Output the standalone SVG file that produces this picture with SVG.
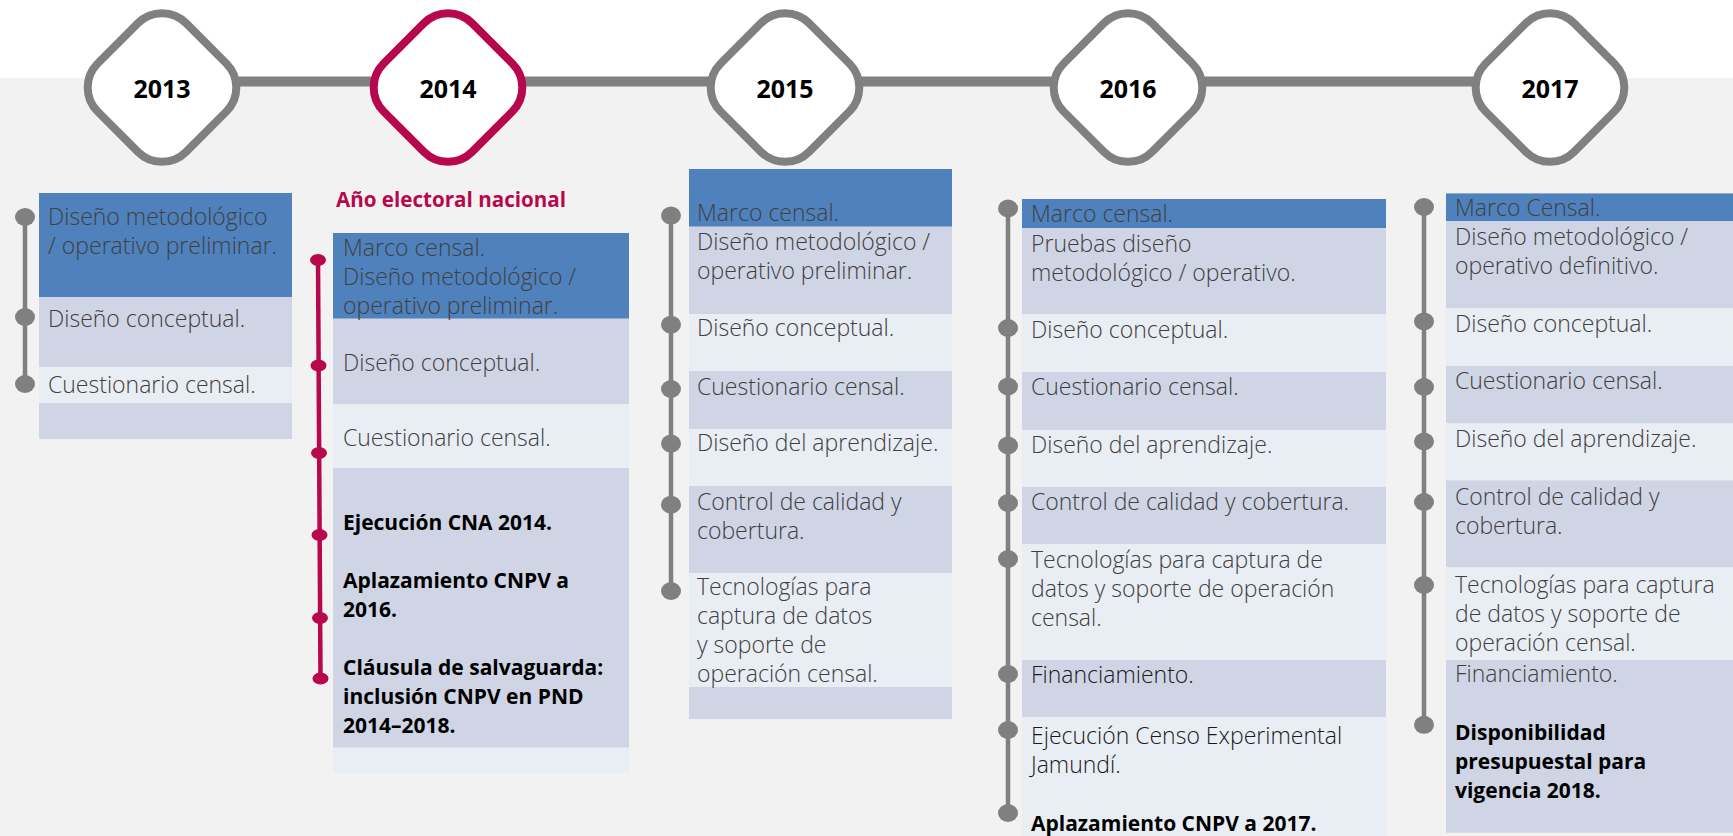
<svg xmlns="http://www.w3.org/2000/svg" width="1733" height="836" viewBox="0 0 1733 836">
<defs>
<style>
.bg{fill:#f2f2f2}
.blue{fill:#4f81bd}
.b1{fill:#cfd5e5}
.b2{fill:#e9edf4}
.t{font-family:"Open Sans","Liberation Sans",sans-serif;font-size:23px;font-weight:300;fill:#404040}
.d{fill:#1a1a1a}
.b{font-family:"Open Sans","Liberation Sans",sans-serif;font-size:21px;font-weight:700;fill:#000}
.yr{font-family:"Open Sans","Liberation Sans",sans-serif;font-size:25px;font-weight:700;fill:#000;text-anchor:middle}
.dia{fill:#fff;stroke:#808080;stroke-width:8}
.dia2{fill:#fff;stroke:#b7084d;stroke-width:8}
.vl{stroke:#808080;stroke-width:4.5;fill:none}
.vl2{stroke:#b7084d;stroke-width:4.5;fill:none}
.dot{fill:#808080}
.dot2{fill:#b7084d}
.hl{font-family:"Open Sans","Liberation Sans",sans-serif;font-size:20.6px;font-weight:700;fill:#b7084d}
</style>
</defs>
<rect x="0" y="0" width="1733" height="836" fill="#fff"/>
<rect class="bg" x="0" y="78" width="1733" height="758"/>

<g id="connectors">
<line x1="162" y1="81.5" x2="1550" y2="81.5" stroke="#808080" stroke-width="10"/>
</g>

<g id="y2013">
<rect class="dia" x="-62.5" y="-62.5" width="125" height="125" rx="34" transform="translate(162 87.5) rotate(45)"/>
<text class="yr" x="162" y="98">2013</text>
<rect class="blue" x="39" y="193" width="253" height="104"/>
<rect class="b1" x="39" y="297" width="253" height="70"/>
<rect class="b2" x="39" y="367" width="253" height="36"/>
<rect class="b1" x="39" y="403" width="253" height="36"/>
<text class="t" x="48" y="225">Diseño metodológico<tspan x="48" dy="29">/ operativo preliminar.</tspan></text>
<text class="t" x="48" y="327">Diseño conceptual.</text>
<text class="t" x="48" y="393">Cuestionario censal.</text>
<line class="vl" x1="25" y1="217" x2="25" y2="384"/>
<ellipse class="dot" cx="25" cy="217" rx="10" ry="9"/>
<ellipse class="dot" cx="25" cy="317" rx="10" ry="9"/>
<ellipse class="dot" cx="25" cy="384" rx="10" ry="9"/>
</g>

<g id="y2014">
<rect class="dia2" x="-62.5" y="-62.5" width="125" height="125" rx="34" transform="translate(448 87.5) rotate(45)"/>
<text class="yr" x="448" y="98">2014</text>
<text class="hl" x="336" y="207">Año electoral nacional</text>
<rect class="blue" x="333" y="233" width="296" height="86"/>
<rect class="b1" x="333" y="318.5" width="296" height="86"/>
<rect class="b2" x="333" y="404.5" width="296" height="64"/>
<rect class="b1" x="333" y="468" width="296" height="280"/>
<rect class="b2" x="333" y="747.5" width="296" height="26"/>
<text class="t" x="343" y="256">Marco censal.<tspan x="343" dy="29">Diseño metodológico /</tspan><tspan x="343" dy="29">operativo preliminar.</tspan></text>
<text class="t" x="343" y="371">Diseño conceptual.</text>
<text class="t" x="343" y="446">Cuestionario censal.</text>
<text class="b" x="343" y="530">Ejecución CNA 2014.</text>
<text class="b" x="343" y="587.5">Aplazamiento CNPV a<tspan x="343" dy="29">2016.</tspan></text>
<text class="b" x="343" y="674.5">Cláusula de salvaguarda:<tspan x="343" dy="29">inclusión CNPV en PND</tspan><tspan x="343" dy="29">2014–2018.</tspan></text>
<line class="vl2" x1="318" y1="260" x2="320.5" y2="678.6"/>
<ellipse class="dot2" cx="318" cy="260" rx="8" ry="6"/>
<ellipse class="dot2" cx="318.5" cy="365.6" rx="8" ry="6"/>
<ellipse class="dot2" cx="319" cy="453" rx="8" ry="6"/>
<ellipse class="dot2" cx="319.5" cy="535" rx="8" ry="6"/>
<ellipse class="dot2" cx="320" cy="618" rx="8" ry="6"/>
<ellipse class="dot2" cx="320.5" cy="678.6" rx="8" ry="6"/>
</g>

<g id="y2015">
<rect class="dia" x="-62.5" y="-62.5" width="125" height="125" rx="34" transform="translate(785 87.5) rotate(45)"/>
<text class="yr" x="785" y="98">2015</text>
<rect class="blue" x="689" y="169" width="263" height="58"/>
<rect class="b1" x="689" y="226.5" width="263" height="88"/>
<rect class="b2" x="689" y="314" width="263" height="57"/>
<rect class="b1" x="689" y="371" width="263" height="58"/>
<rect class="b2" x="689" y="429" width="263" height="57"/>
<rect class="b1" x="689" y="486" width="263" height="87"/>
<rect class="b2" x="689" y="573" width="263" height="114"/>
<rect class="b1" x="689" y="687" width="263" height="32"/>
<text class="t" x="697" y="221">Marco censal.</text>
<text class="t" x="697" y="250">Diseño metodológico /<tspan x="697" dy="29">operativo preliminar.</tspan></text>
<text class="t" x="697" y="336">Diseño conceptual.</text>
<text class="t" x="697" y="394.5">Cuestionario censal.</text>
<text class="t" x="697" y="451">Diseño del aprendizaje.</text>
<text class="t" x="697" y="509.5">Control de calidad y<tspan x="697" dy="29">cobertura.</tspan></text>
<text class="t" x="697" y="594.5">Tecnologías para<tspan x="697" dy="29">captura de datos</tspan><tspan x="697" dy="29">y soporte de</tspan><tspan x="697" dy="29">operación censal.</tspan></text>
<line class="vl" x1="671" y1="215.6" x2="671" y2="591"/>
<ellipse class="dot" cx="671" cy="215.6" rx="10" ry="9"/>
<ellipse class="dot" cx="671" cy="324.7" rx="10" ry="9"/>
<ellipse class="dot" cx="671" cy="389" rx="10" ry="9"/>
<ellipse class="dot" cx="671" cy="443.6" rx="10" ry="9"/>
<ellipse class="dot" cx="671" cy="504.7" rx="10" ry="9"/>
<ellipse class="dot" cx="671" cy="591" rx="10" ry="9"/>
</g>

<g id="y2016">
<rect class="dia" x="-62.5" y="-62.5" width="125" height="125" rx="34" transform="translate(1128 87.5) rotate(45)"/>
<text class="yr" x="1128" y="98">2016</text>
<rect class="blue" x="1022" y="199" width="364" height="29"/>
<rect class="b1" x="1022" y="228" width="364" height="86"/>
<rect class="b2" x="1022" y="314" width="364" height="58"/>
<rect class="b1" x="1022" y="372" width="364" height="58"/>
<rect class="b2" x="1022" y="430" width="364" height="57"/>
<rect class="b1" x="1022" y="487" width="364" height="57"/>
<rect class="b2" x="1022" y="544" width="364" height="116"/>
<rect class="b1" x="1022" y="660" width="364" height="57"/>
<rect class="b2" x="1022" y="717" width="364" height="119"/>
<text class="t" x="1031" y="222">Marco censal.</text>
<text class="t" x="1031" y="251.5">Pruebas diseño<tspan x="1031" dy="29">metodológico / operativo.</tspan></text>
<text class="t" x="1031" y="337.5">Diseño conceptual.</text>
<text class="t" x="1031" y="395">Cuestionario censal.</text>
<text class="t" x="1031" y="452.5">Diseño del aprendizaje.</text>
<text class="t" x="1031" y="509.7">Control de calidad y cobertura.</text>
<text class="t" x="1031" y="568">Tecnologías para captura de<tspan x="1031" dy="29">datos y soporte de operación</tspan><tspan x="1031" dy="29">censal.</tspan></text>
<text class="t d" x="1031" y="683">Financiamiento.</text>
<text class="t d" x="1031" y="744">Ejecución Censo Experimental<tspan x="1031" dy="29">Jamundí.</tspan></text>
<text class="b" x="1031" y="830.7">Aplazamiento CNPV a 2017.</text>
<line class="vl" x1="1008" y1="208.5" x2="1008" y2="813"/>
<ellipse class="dot" cx="1008" cy="208.5" rx="10" ry="9"/>
<ellipse class="dot" cx="1008" cy="328" rx="10" ry="9"/>
<ellipse class="dot" cx="1008" cy="386.5" rx="10" ry="9"/>
<ellipse class="dot" cx="1008" cy="445.5" rx="10" ry="9"/>
<ellipse class="dot" cx="1008" cy="503" rx="10" ry="9"/>
<ellipse class="dot" cx="1008" cy="559" rx="10" ry="9"/>
<ellipse class="dot" cx="1008" cy="674" rx="10" ry="9"/>
<ellipse class="dot" cx="1008" cy="730" rx="10" ry="9"/>
<ellipse class="dot" cx="1008" cy="813" rx="10" ry="9"/>
</g>

<g id="y2017">
<rect class="dia" x="-62.5" y="-62.5" width="125" height="125" rx="34" transform="translate(1550 87.5) rotate(45)"/>
<text class="yr" x="1550" y="98">2017</text>
<rect class="blue" x="1446" y="193.4" width="287" height="28"/>
<rect class="b1" x="1446" y="221" width="287" height="87.5"/>
<rect class="b2" x="1446" y="308.5" width="287" height="57.5"/>
<rect class="b1" x="1446" y="366" width="287" height="57.5"/>
<rect class="b2" x="1446" y="423.5" width="287" height="57"/>
<rect class="b1" x="1446" y="480.4" width="287" height="87"/>
<rect class="b2" x="1446" y="567.4" width="287" height="92.6"/>
<rect class="b1" x="1446" y="660" width="287" height="172.7"/>
<text class="t" x="1455" y="216">Marco Censal.<tspan x="1455" dy="29">Diseño metodológico /</tspan><tspan x="1455" dy="29">operativo definitivo.</tspan></text>
<text class="t" x="1455" y="331.5">Diseño conceptual.</text>
<text class="t" x="1455" y="389">Cuestionario censal.</text>
<text class="t" x="1455" y="447">Diseño del aprendizaje.</text>
<text class="t" x="1455" y="504.6">Control de calidad y<tspan x="1455" dy="29">cobertura.</tspan></text>
<text class="t" x="1455" y="593">Tecnologías para captura<tspan x="1455" dy="29">de datos y soporte de</tspan><tspan x="1455" dy="29">operación censal.</tspan><tspan x="1455" dy="31">Financiamiento.</tspan></text>
<text class="b" x="1455" y="740">Disponibilidad<tspan x="1455" dy="29">presupuestal para</tspan><tspan x="1455" dy="29">vigencia 2018.</tspan></text>
<line class="vl" x1="1424" y1="207" x2="1424" y2="724.8"/>
<ellipse class="dot" cx="1424" cy="207" rx="10" ry="9"/>
<ellipse class="dot" cx="1424" cy="321.4" rx="10" ry="9"/>
<ellipse class="dot" cx="1424" cy="387" rx="10" ry="9"/>
<ellipse class="dot" cx="1424" cy="441.5" rx="10" ry="9"/>
<ellipse class="dot" cx="1424" cy="502" rx="10" ry="9"/>
<ellipse class="dot" cx="1424" cy="585" rx="10" ry="9"/>
<ellipse class="dot" cx="1424" cy="724.8" rx="10" ry="9"/>
</g>
</svg>
